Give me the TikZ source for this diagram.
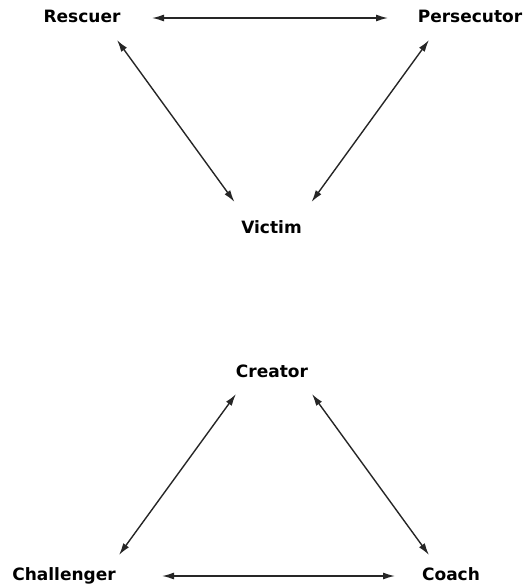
\documentclass[tikz,border=0pt]{standalone}
\usepackage{fontspec}
\setsansfont{DejaVu Sans}
\usetikzlibrary{arrows.meta}
\begin{document}
\begin{tikzpicture}[x=1pt,y=-1pt,
	role/.style={anchor=base, inner sep=0pt, font=\sffamily\bfseries\fontsize{17}{20}\selectfont},
	link/.style={{Latex[length=12pt,width=7pt]}-{Latex[length=12pt,width=7pt]}, line width=1.4pt, black!85}
	]
	\useasboundingbox (0,0) rectangle (532,587);
	% drama triangle
	\node [role] (rescuer) at (82,22) {Rescuer};
	\node [role] (persecutor) at (470,22) {Persecutor};
	\node [role] (victim) at (271.5,233) {Victim};
	\draw [link] ([shift={(70pt,4pt)}]rescuer.base) -- ([shift={(-82pt,4pt)}]persecutor.base);
	\draw [link] ([shift={(35pt,-18pt)}]rescuer.base) -- ([shift={(-37pt,31pt)}]victim.base);
	\draw [link] ([shift={(-41pt,-18pt)}]persecutor.base) -- ([shift={(40pt,31pt)}]victim.base);
	% empowerment triangle
	\node [role] (creator) at (272,377) {Creator};
	\node [role] (challenger) at (64,580) {Challenger};
	\node [role] (coach) at (451,580) {Coach};
	\draw [link] ([shift={(-36pt,-17pt)}]creator.base) -- ([shift={(55pt,25pt)}]challenger.base);
	\draw [link] ([shift={(40pt,-17pt)}]creator.base) -- ([shift={(-22pt,25pt)}]coach.base);
	\draw [link] ([shift={(98pt,4pt)}]challenger.base) -- ([shift={(-56pt,4pt)}]coach.base);
\end{tikzpicture}
\end{document}
